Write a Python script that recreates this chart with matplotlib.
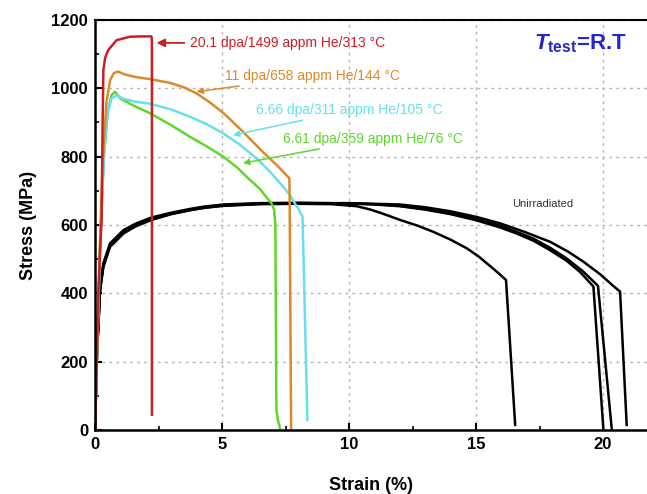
import matplotlib
matplotlib.use("Agg")
import matplotlib.pyplot as plt
from matplotlib.ticker import MultipleLocator

plt.rcParams['font.family'] = ['Liberation Sans', 'DejaVu Sans']
plt.rcParams['mathtext.fontset'] = 'custom'
plt.rcParams['mathtext.bf'] = 'Liberation Sans:bold'
plt.rcParams['mathtext.bfit'] = 'Liberation Sans:bold:italic'

# 20.1 dpa / 1499 appm He / 313 C
red_strain = [0, 0.07, 0.13, 0.2, 0.26, 0.3, 0.33, 0.4, 0.52, 0.85, 1.38, 1.8, 2.22, 2.24, 2.24]
red_stress = [0, 200, 400, 520, 615, 900, 1054, 1090, 1112, 1141, 1151, 1152, 1152, 1140, 45]

# 11 dpa / 658 appm He / 144 C
orange_strain = [0, 0.1, 0.2, 0.3, 0.45, 0.6, 0.75, 0.9, 1.2, 1.6, 2.17, 2.95, 3.5, 4.0,
                 4.5, 5.05, 5.8, 6.63, 7.2, 7.65, 7.66, 7.72]
orange_stress = [0, 280, 560, 780, 960, 1025, 1045, 1049, 1040, 1033, 1027, 1016, 1003, 985,
                 960, 928, 875, 812, 772, 737, 700, 0]

# 6.66 dpa / 311 appm He / 105 C
cyan_strain = [0, 0.1, 0.2, 0.35, 0.5, 0.65, 0.85, 1.1, 1.5, 2.17, 3.0, 3.74, 4.4, 5.05,
               5.7, 6.36, 6.9, 7.41, 7.7, 7.94, 8.0, 8.17, 8.36]
cyan_stress = [0, 270, 540, 800, 930, 970, 980, 970, 962, 955, 938, 917, 895, 868,
               835, 795, 755, 712, 685, 654, 649, 624, 29]

# 6.61 dpa / 359 appm He / 76 C
green_strain = [0, 0.1, 0.2, 0.35, 0.5, 0.65, 0.79, 1.0, 1.5, 2.17, 3.0, 3.74, 4.4, 5.05,
                5.6, 6.1, 6.5, 6.76, 6.95, 7.05, 7.1, 7.14, 7.2, 7.28]
green_stress = [0, 270, 540, 800, 930, 980, 990, 970, 950, 927, 892, 858, 830, 800,
                768, 732, 705, 680, 663, 645, 600, 58, 30, 5]

# unirradiated, four specimens
un1_strain = [0, 0.04, 0.08, 0.13, 0.2, 0.33, 0.59, 1.12, 1.6, 2.23, 3.0, 3.74, 4.3, 5.05,
              6.5, 8.0, 9.3, 10.3, 10.8, 11.22, 11.6, 12.0, 12.7, 13.32, 14.0, 14.63,
              15.1, 15.55, 15.9, 16.18, 16.54]
un1_stress = [0, 120, 230, 300, 410, 478, 536, 575, 596, 615, 632, 644, 650, 656,
              661, 662, 661, 655, 646, 636, 626, 615, 598, 580, 557, 532,
              508, 480, 458, 439, 15]

un2_strain = [0, 0.04, 0.08, 0.13, 0.2, 0.33, 0.59, 1.12, 1.6, 2.23, 3.0, 3.74, 4.3, 5.05,
              6.5, 8.0, 10.0, 11.0, 12.0, 13.0, 13.98, 15.0, 15.94, 16.6, 17.26, 17.9,
              18.57, 19.1, 19.62, 20.01]
un2_stress = [0, 125, 240, 310, 420, 488, 546, 585, 604, 622, 636, 647, 654, 660,
              664, 665, 663, 660, 655, 645, 632, 614, 593, 575, 554, 527,
              495, 462, 420, 5]

un3_strain = [0, 0.04, 0.08, 0.13, 0.2, 0.33, 0.59, 1.12, 1.6, 2.23, 3.0, 3.74, 4.3, 5.05,
              6.5, 8.0, 10.0, 11.0, 12.0, 13.0, 13.98, 15.0, 15.94, 16.6, 17.26, 17.9,
              18.57, 19.2, 19.8, 20.34]
un3_stress = [0, 118, 232, 305, 415, 483, 541, 580, 600, 618, 634, 645, 652, 658,
              663, 664, 663, 661, 656, 647, 635, 618, 598, 580, 560, 534,
              502, 465, 422, 5]

un4_strain = [0, 0.04, 0.08, 0.13, 0.2, 0.33, 0.59, 1.12, 1.6, 2.23, 3.0, 3.74, 4.3, 5.05,
              6.5, 8.0, 10.0, 12.0, 13.0, 14.0, 15.0, 15.94, 16.9, 17.91, 18.6, 19.22,
              19.9, 20.35, 20.67, 20.93]
un4_stress = [0, 122, 236, 302, 412, 480, 538, 578, 598, 616, 632, 643, 651, 657,
              662, 664, 664, 660, 652, 640, 624, 605, 580, 551, 523, 493,
              455, 425, 405, 15]

fig = plt.figure(figsize=(6.47, 4.94), dpi=100)
ax = fig.add_axes([95 / 647, 64 / 494, 552 / 647, 410 / 494])

for xs, ys in [(un1_strain, un1_stress), (un2_strain, un2_stress),
               (un3_strain, un3_stress), (un4_strain, un4_stress)]:
    ax.plot(xs, ys, color='black', lw=1.8, solid_joinstyle='round')

ax.plot(green_strain, green_stress, color='#5ed62a', lw=1.8, solid_joinstyle='round')
ax.plot(cyan_strain, cyan_stress, color='#66e0ea', lw=1.8, solid_joinstyle='round')
ax.plot(orange_strain, orange_stress, color='#d98a2b', lw=1.8, solid_joinstyle='round')
ax.plot(red_strain, red_stress, color='#cc1f25', lw=1.8, solid_joinstyle='round')

ax.set_xlim(0, 21.73)
ax.set_ylim(0, 1200)
ax.xaxis.set_major_locator(MultipleLocator(5))
ax.xaxis.set_minor_locator(MultipleLocator(2.5))
ax.yaxis.set_major_locator(MultipleLocator(200))
ax.yaxis.set_minor_locator(MultipleLocator(100))
ax.tick_params(which='both', direction='in', top=False, right=False)
ax.tick_params(which='major', length=5, width=1.5, labelsize=12, pad=5)
ax.tick_params(which='minor', length=3, width=1.2)
for lab in ax.get_xticklabels() + ax.get_yticklabels():
    lab.set_fontweight('bold')

ax.grid(True, which='major', color='#b5b5b5', linestyle=(0, (2, 3)), lw=1)
ax.set_axisbelow(True)

ax.spines['right'].set_visible(False)
ax.spines['left'].set_linewidth(1.8)
ax.spines['bottom'].set_linewidth(1.8)
ax.spines['top'].set_linewidth(1.5)

ax.set_xlabel('Strain (%)', fontsize=13, fontweight='bold', labelpad=18)
ax.set_ylabel('Stress (MPa)', fontsize=13, fontweight='bold', labelpad=10)

ax.annotate('20.1 dpa/1499 appm He/313 °C', xy=(2.42, 1133), xytext=(3.74, 1133),
            color='#cc1f25', fontsize=10, va='center', ha='left',
            arrowprops=dict(arrowstyle='-|>', color='#cc1f25', lw=1.3, shrinkA=2, shrinkB=0,
                            mutation_scale=12))
ax.annotate('11 dpa/658 appm He/144 °C', xy=(4.0, 990), xytext=(5.12, 1036),
            color='#d98a2b', fontsize=10, va='center', ha='left',
            arrowprops=dict(arrowstyle='-|>', color='#d98a2b', lw=1.1, shrinkA=1, shrinkB=0,
                            mutation_scale=9))
ax.annotate('6.66 dpa/311 appm He/105 °C', xy=(5.43, 863), xytext=(6.34, 936),
            color='#66e0ea', fontsize=10, va='center', ha='left',
            arrowprops=dict(arrowstyle='-|>', color='#66e0ea', lw=1.1, shrinkA=1, shrinkB=0,
                            mutation_scale=9))
ax.annotate('6.61 dpa/359 appm He/76 °C', xy=(5.83, 781), xytext=(7.4, 852),
            color='#5ed62a', fontsize=10, va='center', ha='left',
            arrowprops=dict(arrowstyle='-|>', color='#5ed62a', lw=1.1, shrinkA=1, shrinkB=0,
                            mutation_scale=9))

ax.text(17.64, 661, 'Unirradiated', fontsize=8, color='#333333', ha='center', va='center')
ax.text(17.3, 1130, r'$\mathbfit{T}_{\mathbf{test}}$=R.T', fontsize=16, fontweight='bold',
        color='#2424d0', ha='left', va='center')

fig.savefig('out.png', dpi=100)
